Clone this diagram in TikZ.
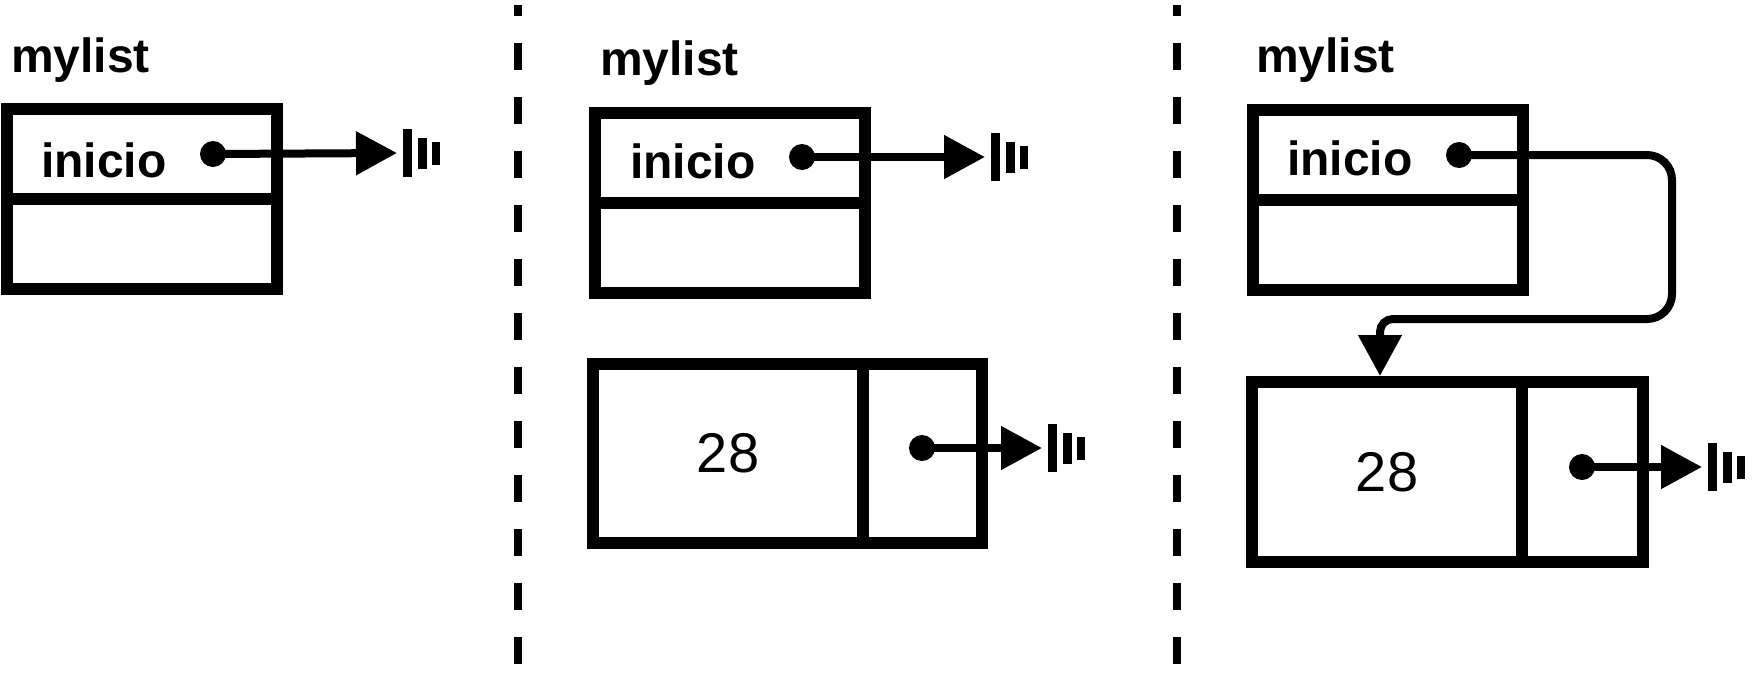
\documentclass[tikz,border=0pt]{standalone}
\usepackage{fontspec}
\setmainfont{Liberation Sans}
\usetikzlibrary{arrows.meta}
\tikzset{
  cellbox/.style 2 args={draw, line width=12pt, inner sep=0pt, outer sep=0pt,
    minimum width=#1, minimum height=#2},
  lbl/.style={inner sep=0pt, outer sep=0pt, anchor=base west,
    font=\fontsize{48pt}{58pt}\selectfont\bfseries},
  numtxt/.style={font=\fontsize{56pt}{67pt}\selectfont},
  ptrdot/.style={circle, fill, draw=none, minimum size=26pt, inner sep=0pt},
  ptr/.style={line width=8pt, -{Triangle[length=41pt,width=42pt]}},
  sepline/.style={line width=8.5pt, dash pattern=on 27pt off 27pt, dash phase=16pt},
  nullsym/.pic={
    \fill (6,-24) rectangle (15,24);
    \fill (21,-15.5) rectangle (30,15.5);
    \fill (35,-11.5) rectangle (43,11.5);
  }
}
\begin{document}
\begin{tikzpicture}[x=1pt,y=-1pt]
\useasboundingbox (0,0) rectangle (1764,672);

% separators
\coordinate (s1a) at (518,5); \coordinate (s1b) at (518,672);
\coordinate (s2a) at (1177,5); \coordinate (s2b) at (1177,672);
\draw[sepline] (s1a) -- (s1b);
\draw[sepline] (s2a) -- (s2b);

% ---- panel 1
\node[lbl] (l1) at (11,72) {mylist};
\node[cellbox={270pt}{90pt}] (h1a) at (142,154) {};
\node[cellbox={270pt}{90pt}] (h1b) at (142,244) {};
\node[lbl] (i1) at (41,177) {inicio};
\node[ptrdot] (d1) at (213,154) {};
\coordinate (n1) at (397,153);
\draw[ptr] (d1.center) -- (n1);
\pic at (n1) {nullsym};

% ---- panel 2
\node[lbl] (l2) at (600,75) {mylist};
\node[cellbox={270pt}{90pt}] (h2a) at (730,158) {};
\node[cellbox={270pt}{90pt}] (h2b) at (730,248) {};
\node[lbl] (i2) at (630,178) {inicio};
\node[ptrdot] (d2) at (802,157) {};
\coordinate (n2) at (985,157);
\draw[ptr] (d2.center) -- (n2);
\pic at (n2) {nullsym};

\node[cellbox={270pt}{179pt}, numtxt] (v2) at (728,453.5) {28};
\node[cellbox={119pt}{179pt}] (p2) at (922.5,453.5) {};
\node[ptrdot] (d2b) at (922,448) {};
\coordinate (n2b) at (1042,448);
\draw[ptr] (d2b.center) -- (n2b);
\pic at (n2b) {nullsym};

% ---- panel 3
\node[lbl] (l3) at (1256,72) {mylist};
\node[cellbox={270pt}{90pt}] (h3a) at (1387.5,154.5) {};
\node[cellbox={270pt}{90pt}] (h3b) at (1387.5,244.5) {};
\node[lbl] (i3) at (1287,175) {inicio};
\node[ptrdot] (d3) at (1459,155) {};

\node[cellbox={270pt}{179.5pt}, numtxt] (v3) at (1387,471.75) {28};
\node[cellbox={120.5pt}{179.5pt}] (p3) at (1582.25,471.75) {};
\node[ptrdot] (d3b) at (1582,467) {};
\coordinate (n3b) at (1702,467);
\draw[ptr] (d3b.center) -- (n3b);
\pic at (n3b) {nullsym};

\coordinate (t3) at (1380,376);
\draw[ptr] (d3.center) -- (1647,155)
  .. controls (1660.8,155) and (1672,166.2) .. (1672,180)
  -- (1672,294)
  .. controls (1672,307.8) and (1660.8,319) .. (1647,319)
  -- (1393,319)
  .. controls (1385.8,319) and (1380,324.8) .. (1380,332) -- (t3);
\end{tikzpicture}
\end{document}
